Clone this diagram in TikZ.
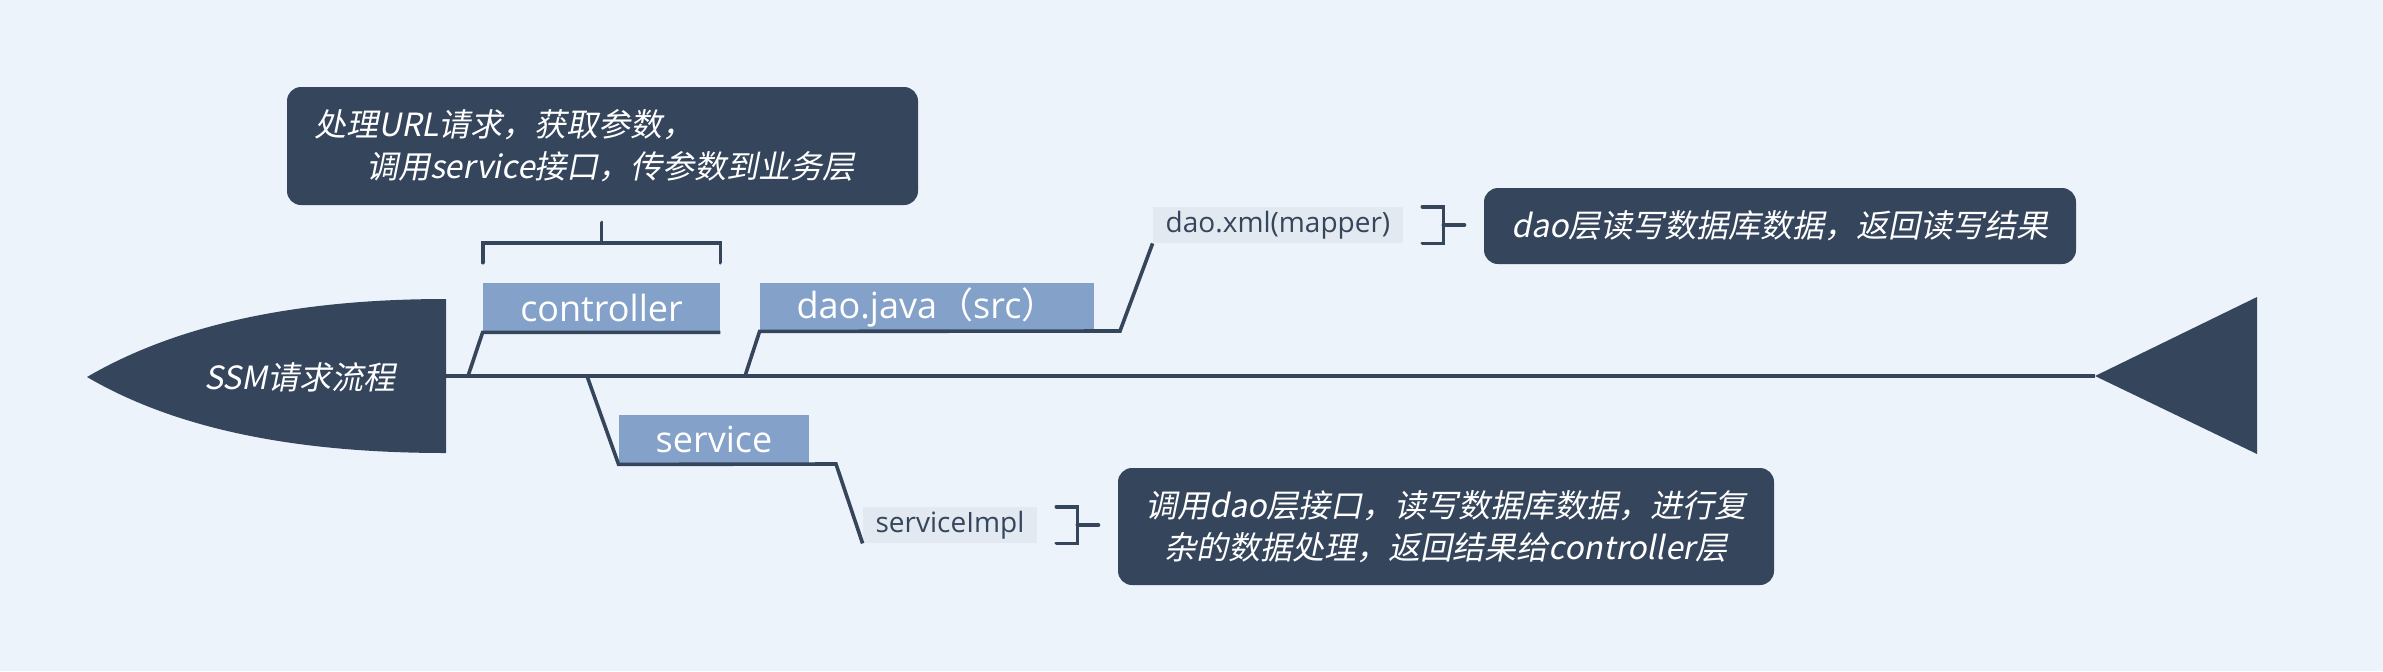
\documentclass[tikz,border=0pt]{standalone}
\usepackage{fontspec}
\setmainfont{Open Sans}
\newfontfamily\cjk{Noto Sans CJK SC}
\newfontfamily\cjkit[FakeSlant=0.2]{Noto Sans CJK SC}
\usetikzlibrary{calc,positioning}
\definecolor{bg}{HTML}{EDF3FA}
\definecolor{ink}{HTML}{35455C}
\definecolor{tagblue}{HTML}{84A1C9}
\definecolor{subbg}{HTML}{E2E9F1}
\tikzset{
  bone/.style={draw=ink,line width=1.8pt},
  brace/.style={draw=ink,line width=1.9pt,line cap=round},
  tag/.style={fill=tagblue,text=white,inner sep=0pt,
              font=\fontsize{18}{21}\selectfont},
  subtag/.style={fill=subbg,text=ink,inner sep=0pt,
                 font=\fontsize{14}{16}\selectfont},
  note/.style={fill=ink,text=white,rounded corners=7pt,inner sep=0pt,
               align=center,font=\cjkit\fontsize{16}{21}\selectfont},
}

\begin{document}
\begin{tikzpicture}[x=0.5pt,y=-0.5pt]
  \fill[bg] (0,0) rectangle (2383,671);
  \useasboundingbox (0,0) rectangle (2383,671);
  % head and tail of the fish
  \fill[ink] (87,377) .. controls (176,325) and (295,299) .. (446,299)
    -- (446,453) .. controls (295,453) and (176,429) .. cycle;
  \node[text=white,font=\cjkit\fontsize{16}{20}\selectfont] (ssm) at (300,377) {SSM请求流程};
  \coordinate (neck) at (446,376);
  \coordinate (tip) at (2095,376);
  \fill[ink] (tip) -- (2257,297) -- (2257,454) -- cycle;
  \draw[bone] (neck) -- (tip);

  \node[tag,minimum width=118.5pt,minimum height=24.5pt] (ctrl) at (601.5,307.5) {controller};
  \node[tag,minimum width=167pt,minimum height=24pt] (daojava) at (927,307) {dao.java{\cjk （}src{\cjk ）}};
  \node[tag,minimum width=95pt,minimum height=24.5pt] (svc) at (714,439.5) {service};
  \node[subtag,minimum width=125pt,minimum height=18pt] (daoxml) at (1278,225) {dao.xml(mapper)};
  \node[subtag,minimum width=87pt,minimum height=18pt] (impl) at (950,525) {serviceImpl};

  \node[note,minimum width=315.5pt,minimum height=59pt,text width=288.5pt,align=left] (ctrlnote)
    at (602.5,146) {处理URL请求，获取参数，\\\hspace*{26pt}调用service接口，传参数到业务层};
  \node[note,minimum width=296pt,minimum height=38pt] (daonote)
    at (1780,226) {dao层读写数据库数据，返回读写结果};
  \node[note,minimum width=328pt,minimum height=58.5pt] (svcnote)
    at (1446,526.5) {调用dao层接口，读写数据库数据，进行复\\杂的数据处理，返回结果给controller层};

  % bones
  \coordinate (c0) at (468,376);
  \coordinate (d0) at (745,376);
  \coordinate (d1) at (1120,331);
  \coordinate (s0) at (587,376);
  \coordinate (s1) at (836,464);
  \draw[bone] (c0) -- (ctrl.south west) -- (ctrl.south east);
  \draw[bone] (d0) -- (daojava.south west) -- (d1) -- (daoxml.south west);
  \draw[bone] (s0) -- (svc.south west) -- (s1) -- (impl.south west);

  % brackets to the notes
  \draw[brace] ([yshift=10pt]ctrl.north west) -- ([yshift=20pt]ctrl.north west)
    -- ([yshift=20pt]ctrl.north east) -- ([yshift=10pt]ctrl.north east);
  \draw[brace] ([yshift=20pt]ctrl.north) -- ([yshift=30pt]ctrl.north);
  \draw[brace] ([xshift=9.5pt]daoxml.north east) -- ([xshift=20pt]daoxml.north east)
    -- ([xshift=20pt]daoxml.south east) -- ([xshift=9.5pt]daoxml.south east);
  \draw[brace] ([xshift=20pt]daoxml.east) -- ([xshift=30.5pt]daoxml.east);
  \draw[brace] ([xshift=9.5pt]impl.north east) -- ([xshift=20pt]impl.north east)
    -- ([xshift=20pt]impl.south east) -- ([xshift=9.5pt]impl.south east);
  \draw[brace] ([xshift=20pt]impl.east) -- ([xshift=30.5pt]impl.east);
\end{tikzpicture}
\end{document}
